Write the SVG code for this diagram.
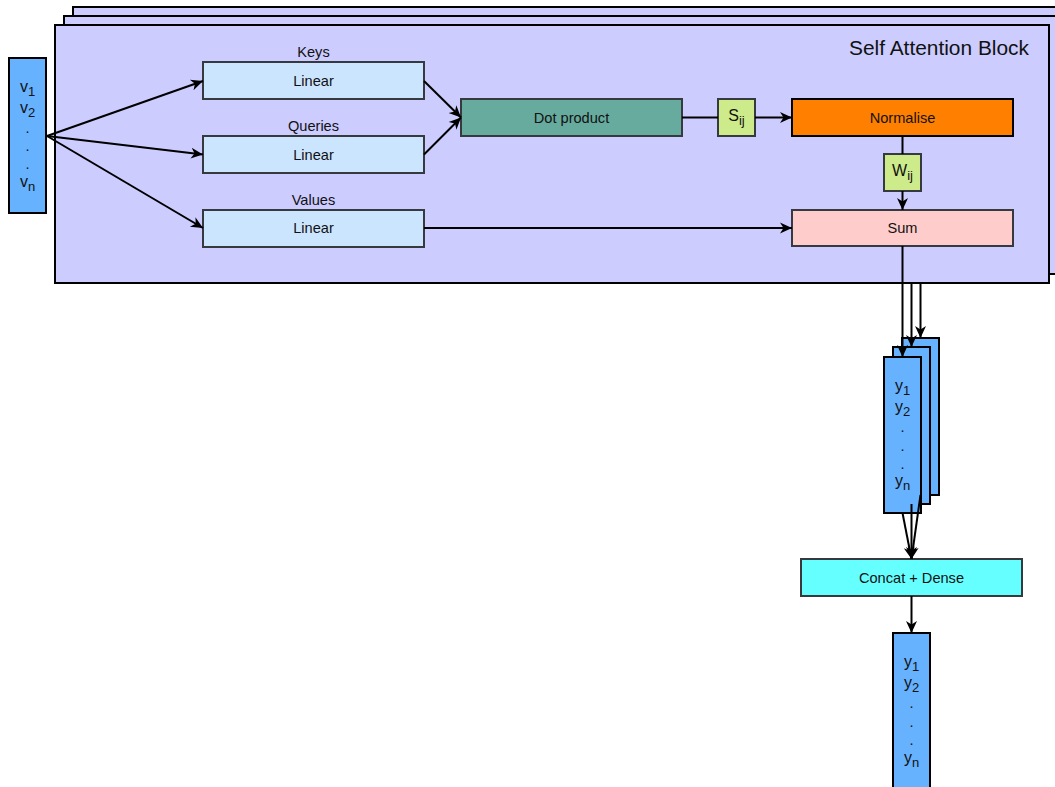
<svg xmlns="http://www.w3.org/2000/svg" width="1055" height="787" viewBox="0 0 1055 787">
  <defs>
    <marker id="arrow" markerUnits="userSpaceOnUse" markerWidth="14" markerHeight="14" refX="12" refY="7" orient="auto">
      <path d="M0,1.5 L12,7 L0,12.5 L3.5,7 Z" fill="#000"/>
    </marker>
    <style>
      text { font-family: "Liberation Sans", Arial, Helvetica, sans-serif; font-size: 14.6px; fill: #111; }
      .c { text-anchor: middle; }
      .v { font-size: 16px; }
      .sub { font-size: 13px; }
      .frame { fill: #ccccff; stroke: #000; stroke-width: 2; }
      .vec { fill: #66b2ff; stroke: #000; stroke-width: 2; }
      .lin { fill: #cce5ff; stroke: #36393d; stroke-width: 2; }
      .dot { fill: #67ab9f; stroke: #36393d; stroke-width: 2; }
      .small { fill: #cdeb8b; stroke: #36393d; stroke-width: 2; }
      .norm { fill: #ff8000; stroke: #000; stroke-width: 2; }
      .sum { fill: #ffcccc; stroke: #36393d; stroke-width: 2; }
      .cat { fill: #66ffff; stroke: #36393d; stroke-width: 2; }
      .edge { fill: none; stroke: #000; stroke-width: 2; }
      .arr { marker-end: url(#arrow); }
    </style>
  </defs>

  <!-- stacked attention heads -->
  <g id="head-3"><rect class="frame" x="73" y="7" width="1000" height="258"/></g>
  <g id="head-2"><rect class="frame" x="64" y="16" width="1000" height="258"/></g>
  <g id="head-1">
    <rect class="frame" x="55" y="25" width="994" height="258"/>
    <text x="1029" y="55" style="font-size:20.9px;text-anchor:end">Self Attention Block</text>
  </g>

  <!-- input vector -->
  <g id="input">
    <rect class="vec" x="9" y="58" width="37" height="155"/>
    <text class="c v" x="27.5" y="92">v<tspan class="sub" dy="4">1</tspan></text>
    <text class="c v" x="27.5" y="113">v<tspan class="sub" dy="4">2</tspan></text>
    <text class="c" x="27.5" y="133">.</text>
    <text class="c" x="27.5" y="151">.</text>
    <text class="c" x="27.5" y="169">.</text>
    <text class="c v" x="27.5" y="187">v<tspan class="sub" dy="4">n</tspan></text>
  </g>

  <g id="keys">
    <text class="c" x="313.5" y="57">Keys</text>
    <rect class="lin" x="203" y="62" width="221" height="37"/>
    <text class="c" x="313.5" y="86">Linear</text>
  </g>
  <g id="queries">
    <text class="c" x="313.5" y="131">Queries</text>
    <rect class="lin" x="203" y="136" width="221" height="37"/>
    <text class="c" x="313.5" y="159.5">Linear</text>
  </g>
  <g id="values">
    <text class="c" x="313.5" y="205">Values</text>
    <rect class="lin" x="203" y="210" width="221" height="37"/>
    <text class="c" x="313.5" y="233">Linear</text>
  </g>

  <g id="dot-product">
    <rect class="dot" x="461" y="99" width="221" height="37"/>
    <text class="c" x="571.5" y="122.5">Dot product</text>
  </g>
  <g id="sij">
    <rect class="small" x="718" y="99" width="37" height="37"/>
    <text class="c v" x="736.5" y="120.5">S<tspan class="sub" dy="4">ij</tspan></text>
  </g>
  <g id="normalise">
    <rect class="norm" x="792" y="99" width="221" height="37"/>
    <text class="c" x="902.5" y="122.5">Normalise</text>
  </g>
  <g id="wij">
    <rect class="small" x="884" y="154" width="37" height="37"/>
    <text class="c v" x="902.5" y="176">W<tspan class="sub" dy="4">ij</tspan></text>
  </g>
  <g id="sum">
    <rect class="sum" x="792" y="210" width="221" height="36"/>
    <text class="c" x="902.5" y="233">Sum</text>
  </g>

  <!-- head outputs -->
  <g id="out-3"><rect class="vec" x="902" y="338" width="37" height="157"/></g>
  <g id="out-2"><rect class="vec" x="893" y="347" width="37" height="157"/></g>
  <g id="out-1">
    <rect class="vec" x="884" y="357" width="37" height="156"/>
    <text class="c v" x="902.5" y="391">y<tspan class="sub" dy="4">1</tspan></text>
    <text class="c v" x="902.5" y="412">y<tspan class="sub" dy="4">2</tspan></text>
    <text class="c" x="902.5" y="432">.</text>
    <text class="c" x="902.5" y="451">.</text>
    <text class="c" x="902.5" y="469">.</text>
    <text class="c v" x="902.5" y="486">y<tspan class="sub" dy="4">n</tspan></text>
  </g>

  <g id="concat">
    <rect class="cat" x="801" y="559" width="221" height="37"/>
    <text class="c" x="911.5" y="582.5">Concat + Dense</text>
  </g>

  <g id="output">
    <rect class="vec" x="893" y="633" width="37" height="160"/>
    <text class="c v" x="911.5" y="667">y<tspan class="sub" dy="4">1</tspan></text>
    <text class="c v" x="911.5" y="688">y<tspan class="sub" dy="4">2</tspan></text>
    <text class="c" x="911.5" y="708">.</text>
    <text class="c" x="911.5" y="727">.</text>
    <text class="c" x="911.5" y="745">.</text>
    <text class="c v" x="911.5" y="763">y<tspan class="sub" dy="4">n</tspan></text>
  </g>

  <g id="connectors">
    <line class="edge arr" x1="47" y1="136" x2="203" y2="81"/>
    <line class="edge arr" x1="47" y1="136" x2="203" y2="154.5"/>
    <line class="edge arr" x1="47" y1="136" x2="203" y2="228"/>
    <line class="edge arr" x1="424" y1="81" x2="461" y2="117.5"/>
    <line class="edge arr" x1="424" y1="154.5" x2="461" y2="117.5"/>
    <line class="edge" x1="682" y1="117.5" x2="718" y2="117.5"/>
    <line class="edge arr" x1="755" y1="117.5" x2="792" y2="117.5"/>
    <line class="edge" x1="902.5" y1="136" x2="902.5" y2="154"/>
    <line class="edge arr" x1="902.5" y1="191" x2="902.5" y2="210"/>
    <line class="edge arr" x1="424" y1="228" x2="792" y2="228"/>
    <line class="edge arr" x1="902.5" y1="246" x2="902.5" y2="357"/>
    <line class="edge arr" x1="911.5" y1="283" x2="911.5" y2="347"/>
    <line class="edge arr" x1="920.5" y1="283" x2="920.5" y2="338"/>
    <line class="edge arr" x1="902.5" y1="513" x2="911.5" y2="559"/>
    <line class="edge arr" x1="911.5" y1="504" x2="911.5" y2="559"/>
    <line class="edge arr" x1="920.5" y1="495" x2="911.5" y2="559"/>
    <line class="edge arr" x1="911.5" y1="596" x2="911.5" y2="633"/>
  </g>
</svg>
